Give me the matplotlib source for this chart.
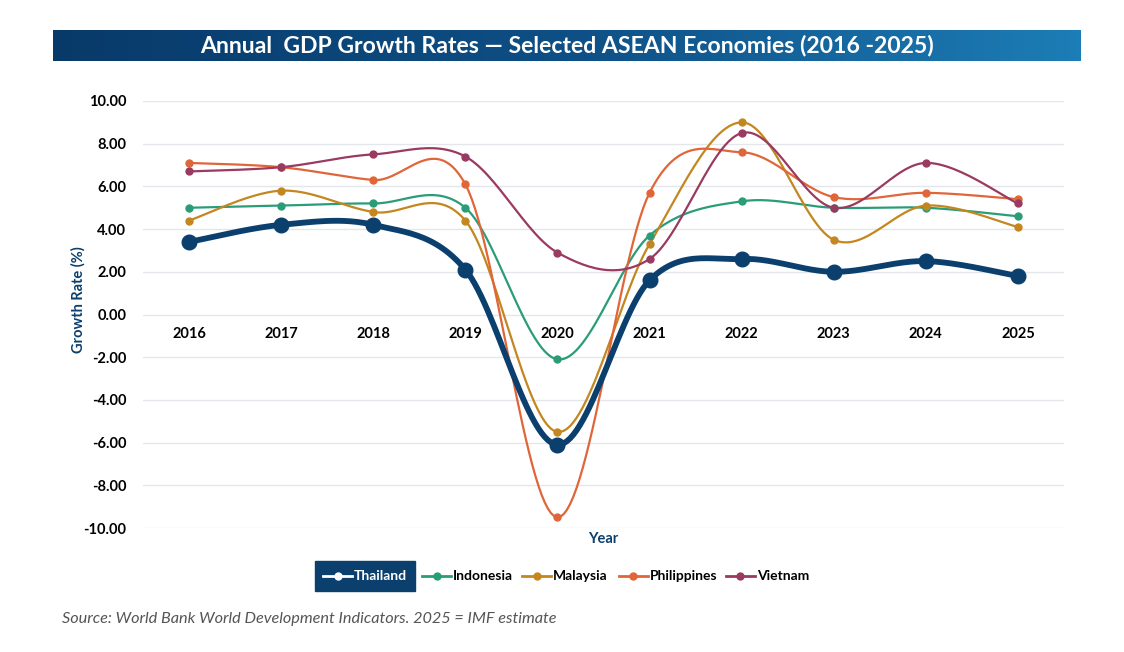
import numpy as np
import matplotlib.pyplot as plt
from matplotlib.colors import LinearSegmentedColormap
from matplotlib.patches import Rectangle
from matplotlib.lines import Line2D

plt.rcParams['font.family'] = ['Lato', 'DejaVu Sans']

years = [2016, 2017, 2018, 2019, 2020, 2021, 2022, 2023, 2024, 2025]
thailand = [3.4, 4.2, 4.2, 2.1, -6.1, 1.6, 2.6, 2.0, 2.5, 1.8]
indonesia = [5.0, 5.1, 5.2, 5.0, -2.1, 3.7, 5.3, 5.0, 5.0, 4.6]
malaysia = [4.4, 5.8, 4.8, 4.4, -5.5, 3.3, 9.0, 3.5, 5.1, 4.1]
philippines = [7.1, 6.9, 6.3, 6.1, -9.5, 5.7, 7.6, 5.5, 5.7, 5.4]
vietnam = [6.7, 6.9, 7.5, 7.4, 2.9, 2.6, 8.5, 5.0, 7.1, 5.2]

names = ['Thailand', 'Indonesia', 'Malaysia', 'Philippines', 'Vietnam']
series = [thailand, indonesia, malaysia, philippines, vietnam]
colors = ['#0b3f6e', '#2a9d78', '#c4861f', '#e0663a', '#9a3a60']


def smooth(x, y, n=30):
    # excel-style smoothed line (catmull-rom bezier), only for drawing
    x = np.asarray(x, float)
    y = np.asarray(y, float)
    px = np.concatenate([[x[0]], x, [x[-1]]])
    py = np.concatenate([[y[0]], y, [y[-1]]])
    xs, ys = [], []
    t = np.linspace(0, 1, n)
    for i in range(1, len(px) - 2):
        p0 = np.array([px[i], py[i]])
        p3 = np.array([px[i + 1], py[i + 1]])
        c1 = p0 + (np.array([px[i + 1], py[i + 1]]) - np.array([px[i - 1], py[i - 1]])) / 6
        c2 = p3 - (np.array([px[i + 2], py[i + 2]]) - np.array([px[i], py[i]])) / 6
        b = ((1 - t) ** 3)[:, None] * p0 + (3 * (1 - t) ** 2 * t)[:, None] * c1 \
            + (3 * (1 - t) * t ** 2)[:, None] * c2 + (t ** 3)[:, None] * p3
        xs.extend(b[:, 0])
        ys.extend(b[:, 1])
    return xs, ys


fig = plt.figure(figsize=(11.24, 6.52), dpi=100)

# title banner
bax = fig.add_axes([53 / 1124, 1 - 61 / 652, 1028 / 1124, 31 / 652])
cmap = LinearSegmentedColormap.from_list('b', ['#083a69', '#0e4f85', '#1d7db6'])
bax.imshow(np.linspace(0, 1, 256)[None, :], aspect='auto', cmap=cmap, extent=[0, 1, 0, 1])
bax.set_axis_off()
bax.text(0.5, 0.5, 'Annual  GDP Growth Rates \u2014 Selected ASEAN Economies (2016 -2025)',
         color='white', fontsize=16.6, fontweight='bold', ha='center', va='center')

ax = fig.add_axes([143 / 1124, 1 - 528 / 652, 921 / 1124, 427 / 652])
ax.set_xlim(2015.5, 2025.5)
ax.set_ylim(-10, 10)
ax.set_yticks(np.arange(-10, 10.1, 2))
ax.set_yticklabels(['%.2f' % v for v in np.arange(-10, 10.1, 2)], fontsize=10.5, fontweight='bold')
ax.yaxis.grid(True, color='#e3e6ea', lw=1)
ax.set_axisbelow(True)
ax.set_xticks([])
for s in ax.spines.values():
    s.set_visible(False)
ax.tick_params(axis='y', length=0, pad=12)

for yr in years:
    ax.text(yr, -0.9, str(yr), ha='center', va='center', fontsize=10.5, fontweight='bold')

order = [1, 2, 3, 4, 0]
for i in order:
    xs, ys = smooth(years, series[i])
    if i == 0:
        ax.plot(xs, ys, color=colors[i], lw=4.2, zorder=5, solid_capstyle='round')
        ax.plot(years, series[i], 'o', color=colors[i], ms=10.5, zorder=6)
    else:
        ax.plot(xs, ys, color=colors[i], lw=1.6, zorder=3)
        ax.plot(years, series[i], 'o', color=colors[i], ms=5, zorder=4)

fig.text(603 / 1124, 1 - 539 / 652, 'Year', ha='center', va='center',
         fontsize=10.5, fontweight='bold', color='#0b3f6e')
fig.text(78 / 1124, 1 - 300 / 652, 'Growth Rate (%)', ha='center', va='center',
         rotation=90, fontsize=10.5, fontweight='bold', color='#0b3f6e')

# legend
fig.patches.append(Rectangle((315 / 1124, 1 - 591 / 652), 100 / 1124, 30 / 652,
                             transform=fig.transFigure, color='#0b3f6e', zorder=1))
leg_x = [323, 422, 522, 619, 726]
for i, name in enumerate(names):
    x0 = leg_x[i]
    c = 'white' if i == 0 else colors[i]
    yy = 1 - 576 / 652
    fig.lines.append(Line2D([x0 / 1124, (x0 + 29) / 1124], [yy, yy], transform=fig.transFigure,
                            color=c, lw=2, zorder=2))
    fig.lines.append(Line2D([(x0 + 14.5) / 1124], [yy], transform=fig.transFigure,
                            color=c, marker='o', ms=5, zorder=2))
    fig.text((x0 + 31) / 1124, yy, name, ha='left', va='center', fontsize=10,
             fontweight='bold', color='white' if i == 0 else 'black', zorder=3)

fig.text(62 / 1124, 1 - 619 / 652, 'Source: World Bank World Development Indicators. 2025 = IMF estimate',
         ha='left', va='center', fontsize=11.7, style='italic', color='#555555')

fig.savefig('out.png', dpi=100)
